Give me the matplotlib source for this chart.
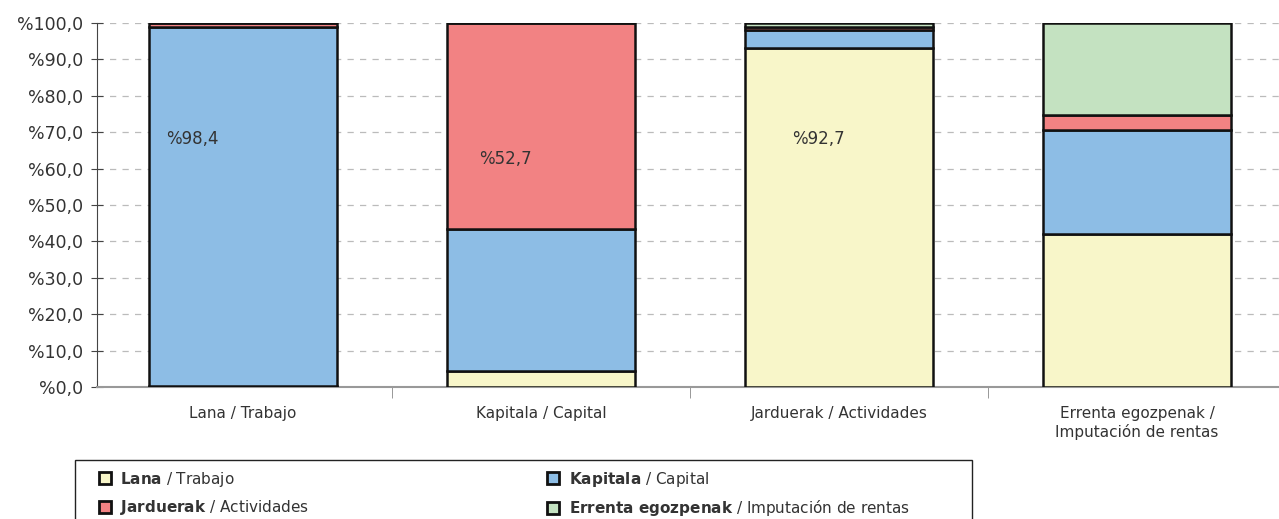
import matplotlib

matplotlib.use("Agg")
import matplotlib.pyplot as plt
import numpy as np
from matplotlib.patches import Patch, Rectangle

categories = ["Lana / Trabajo", "Kapitala / Capital", "Jarduerak / Actividades",
              "Errenta egozpenak /\nImputación de rentas"]
series_eu = ["Lana", "Kapitala", "Jarduerak", "Errenta egozpenak"]
series_es = ["Trabajo", "Capital", "Actividades", "Imputación de rentas"]
lana = [0.4, 4.4, 93.0, 42.0]
kapitala = [98.4, 38.9, 5.1, 28.6]
jarduerak = [1.2, 56.7, 0.7, 4.1]
errenta = [0.0, 0.0, 1.2, 25.3]
bar_labels = ["%98,4", "%52,7", "%92,7", ""]

COLORS = ["#F8F6C9", "#8DBDE5", "#F28283", "#C4E2C1"]
TXT = "#333333"

plt.rcParams.update({
    "font.family": ["DejaVu Sans"],
    "mathtext.fontset": "dejavusans",
})

fig = plt.figure(figsize=(12.79, 5.19), dpi=100)
W, H = 1279, 519
ax = fig.add_axes([97 / W, 1 - 387 / H, (W - 97) / W, (387 - 23) / H])

x = np.arange(len(categories))
bottom = np.zeros(len(categories))
for vals, col in zip([lana, kapitala, jarduerak, errenta], COLORS):
    v = np.array(vals)
    ax.bar(x, v, bottom=bottom, width=0.63, color=col, edgecolor="#111111",
           linewidth=1.8, zorder=3)
    bottom += v

# value labels sit at the left of the bar, as in the source
label_pos = [(-0.17, 68.0), (-0.12, 62.5), (-0.07, 68.0), (0, 0)]
for i, (lab, (dx, y)) in enumerate(zip(bar_labels, label_pos)):
    if lab:
        ax.text(i + dx, y, lab, ha="center", va="center", fontsize=12, color=TXT, zorder=4)

ax.set_ylim(0, 100)
ax.set_xlim(-0.49, 3.5 - 7 / 298)
ax.set_yticks(np.arange(0, 101, 10))
ax.set_yticklabels([f"%{v:.1f}".replace(".", ",") for v in np.arange(0, 101, 10)],
                   fontsize=12.5, color=TXT)
ax.yaxis.grid(True, ls=(0, (5, 5)), color="#BBBBBB", lw=0.9, zorder=0)
ax.tick_params(axis="y", direction="inout", length=8, color="#444444", pad=6)

ax.set_xticks(x)
ax.set_xticklabels(categories, fontsize=11, color=TXT)
ax.tick_params(axis="x", length=0, pad=14)
ax.set_xticks([0.5, 1.5, 2.5], minor=True)
ax.tick_params(axis="x", which="minor", length=8, color="#888888", direction="out")

for s in ["top", "right"]:
    ax.spines[s].set_visible(False)
ax.spines["left"].set_color("#444444")
ax.spines["bottom"].set_color("#999999")
ax.spines["bottom"].set_linewidth(1.5)

# legend box runs off the bottom edge
fig.patches.append(Rectangle((75 / W, -0.05), (972 - 75) / W, 0.05 + 1 - 460 / H,
                             transform=fig.transFigure, fill=False, ec="#222222",
                             lw=1.0, clip_on=False))
handles, labels = [], []
for i in [0, 2, 1, 3]:
    handles.append(Patch(facecolor=COLORS[i], edgecolor="#111111", lw=2.0))
    eu = series_eu[i].replace(" ", r"\ ")
    labels.append(rf"$\mathbf{{{eu}}}$ / {series_es[i]}")
fig.legend(handles, labels, ncol=2, frameon=False, loc="upper left",
           bbox_to_anchor=(88 / W, 1 - 459 / H), fontsize=11, handlelength=0.8,
           handleheight=0.85, handletextpad=0.6, columnspacing=15.6, labelspacing=0.62,
           labelcolor=TXT, borderpad=0.2)

fig.savefig("out.png", dpi=100)
